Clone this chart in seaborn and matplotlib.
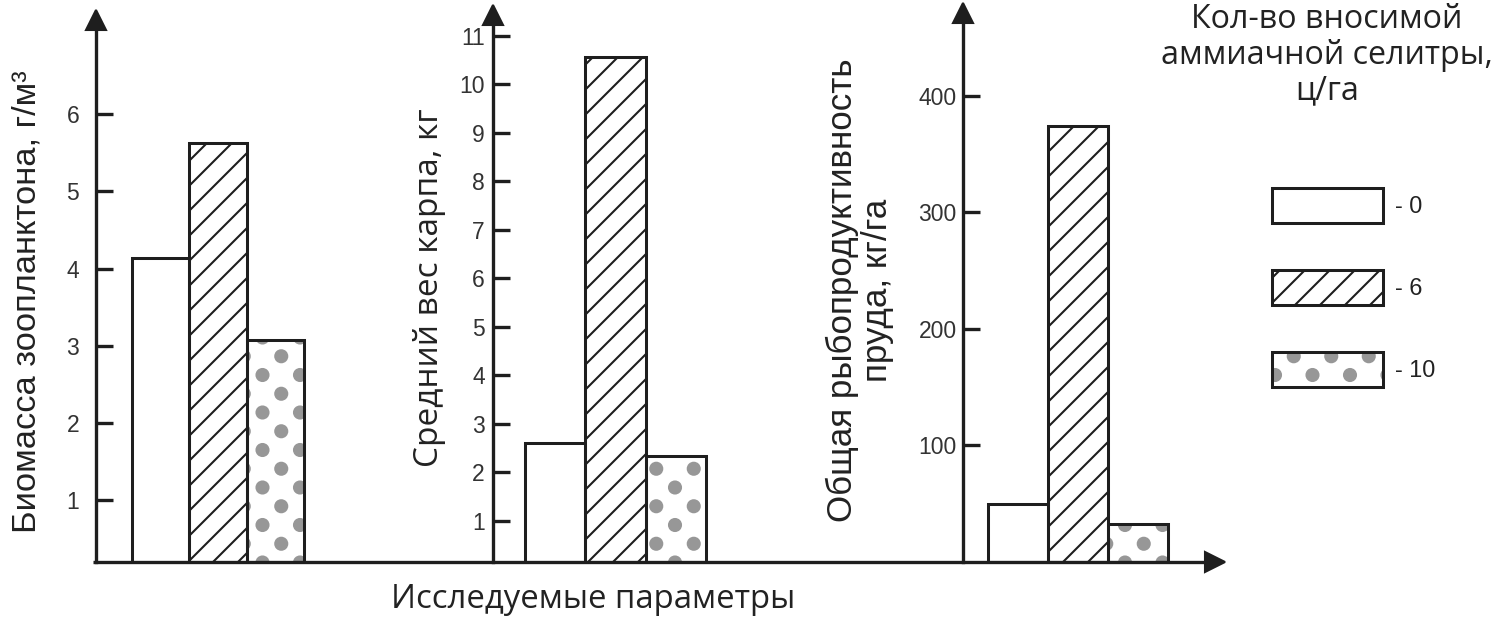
import numpy as np
import pandas as pd
import matplotlib
matplotlib.use('Agg')
import matplotlib.pyplot as plt
import matplotlib.hatch as mhatch
from matplotlib.path import Path
from matplotlib.legend_handler import HandlerTuple
import seaborn as sns

# данные
doses = ['0', '6', '10']
biomass = [4.13, 5.63, 3.07]          # г/м3
carp_weight = [2.61, 10.57, 2.35]     # кг
productivity = [50, 374, 33]          # кг/га

ticks_biomass = [1, 2, 3, 4, 5, 6]
ticks_weight = list(range(1, 12))
ticks_prod = [100, 200, 300, 400]

ylabels = ['Биомасса зоопланктона, г/м³',
           'Средний вес карпа, кг',
           'Общая рыбопродуктивность\nпруда, кг/га']
xlabel = 'Исследуемые параметры'
legend_title = 'Кол-во вносимой\nаммиачной селитры,\nц/га'
legend_labels = ['- 0', '- 6', '- 10']


# крупные точки в шахматном порядке вместо стандартной штриховки '.'
class BigDots(mhatch.HatchPatternBase):
    size = 0.04
    step = 8

    def __init__(self, hatch, density):
        circle = Path.unit_circle()
        self.shape_vertices = circle.vertices
        self.shape_codes = circle.codes
        self.pts = []
        if hatch.count('.'):
            self.pts = [(i, j) for i in range(self.step + 1)
                        for j in range(self.step + 1) if (i + j) % 2 == 0]
        self.num_vertices = len(self.pts) * len(circle.vertices)

    def set_vertices_and_codes(self, vertices, codes):
        v = [self.shape_vertices * self.size + [i / self.step, j / self.step] for i, j in self.pts]
        c = [self.shape_codes for _ in self.pts]
        np.concatenate(v, out=vertices)
        np.concatenate(c, out=codes)


mhatch._hatch_types = [BigDots if t is mhatch.SmallFilledCircles else t
                       for t in mhatch._hatch_types]

sns.set_style('white')
plt.rcParams['font.family'] = ['Liberation Sans', 'DejaVu Sans']
plt.rcParams['hatch.linewidth'] = 1.0

INK = '#1e1e1e'
DOT = '#979797'
hatches = [None, '//', '.']
hatch_colors = ['white', INK, DOT]

W, H, DPI = 1500, 624, 150
BASE = 562  # линия оси X, пикселей сверху
fig = plt.figure(figsize=(W / DPI, H / DPI), dpi=DPI)

# раскладка панелей: ось Y, верх стрелки, края столбцов, пределы, отступ подписей
layout = [
    dict(spine=96, top=20, bx=(132, 304), ylim=(0.197, 7.22), pad=8),
    dict(spine=493, top=15, bx=(525, 706), ylim=(0.155, 11.43), pad=4),
    dict(spine=963, top=13, bx=(988, 1168), ylim=(0, 471), pad=3),
]
series = [biomass, carp_weight, productivity]
yticks = [ticks_biomass, ticks_weight, ticks_prod]

legend_handles = None
for lay, vals, tks in zip(layout, series, yticks):
    bx0, bx1 = lay['bx']
    k = (bx1 - bx0) / 0.8
    x_left = -0.4 - (bx0 - lay['spine']) / k
    x_right = 0.4 + 15 / k
    ax = fig.add_axes([lay['spine'] / W, (H - BASE) / H,
                       (bx1 + 15 - lay['spine']) / W, (BASE - lay['top']) / H])
    ax.patch.set_alpha(0)
    df = pd.DataFrame({'param': 'p', 'dose': doses, 'value': vals})

    # слой 1: заливка и штриховка
    sns.barplot(data=df, x='param', y='value', hue='dose', hue_order=doses,
                palette=['white'] * 3, saturation=1, errorbar=None,
                legend=False, ax=ax)
    fill_bars = list(ax.patches)
    for p, h, c in zip(fill_bars, hatches, hatch_colors):
        p.set_facecolor('white')
        p.set_edgecolor(c)
        p.set_linewidth(0)
        if h:
            p.set_hatch(h)

    # слой 2: чёрный контур
    sns.barplot(data=df, x='param', y='value', hue='dose', hue_order=doses,
                palette=['black'] * 3, saturation=1, errorbar=None,
                legend=False, ax=ax)
    edge_bars = list(ax.patches)[len(fill_bars):]
    for p in edge_bars:
        p.set_facecolor('none')
        p.set_edgecolor(INK)
        p.set_linewidth(1.45)
    if legend_handles is None:
        legend_handles = list(zip(fill_bars, edge_bars))

    ax.set_xlim(x_left, x_right)
    ax.set_ylim(*lay['ylim'])
    ax.set_xticks([])
    ax.set_yticks(tks)
    ax.set_xlabel('')
    ax.set_ylabel('')
    for s in ['top', 'right', 'bottom']:
        ax.spines[s].set_visible(False)
    ax.spines['left'].set_color(INK)
    ax.spines['left'].set_linewidth(1.6)
    ax.tick_params(axis='y', direction='in', length=8, width=1.6, color=INK,
                   pad=lay['pad'], labelsize=11, labelcolor='#333333', left=True)
    ax.plot(0, 1, marker='^', ms=9.6, color=INK, transform=ax.transAxes, clip_on=False)

# общая ось X со стрелкой
axbg = fig.add_axes([0, 0, 1, 1])
axbg.set_xlim(0, W)
axbg.set_ylim(H, 0)
axbg.axis('off')
axbg.plot([93, 1207], [BASE, BASE], color=INK, lw=1.6, solid_capstyle='butt')
axbg.plot(1215, BASE, marker='>', ms=9.6, color=INK)

# подписи осей
fig.text(27 / W, 1 - 302 / H, ylabels[0], rotation=90, ha='center', va='center',
         fontsize=16.5, color='#222222')
fig.text(430 / W, 1 - 288 / H, ylabels[1], rotation=90, ha='center', va='center',
         fontsize=16, color='#222222', family=['Open Sans', 'DejaVu Sans'])
fig.text(860 / W, 1 - 290 / H, ylabels[2], rotation=90, ha='center', va='center',
         fontsize=16.8, color='#222222', multialignment='center', linespacing=1.05,
         family=['Liberation Sans Narrow', 'Liberation Sans', 'DejaVu Sans'])
fig.text(593 / W, 1 - 600 / H, xlabel, ha='center', va='center', fontsize=15.8,
         color='#222222', family=['Open Sans', 'DejaVu Sans'])

# легенда
fig.text(1327 / W, 1 - 55 / H, legend_title, ha='center', va='center', fontsize=15.5,
         color='#222222', multialignment='center', linespacing=1.1,
         family=['Open Sans', 'DejaVu Sans'])
fig.legend(legend_handles, legend_labels,
           handler_map={tuple: HandlerTuple(ndivide=1, pad=0)},
           loc='upper left', bbox_to_anchor=(1272 / W, 1 - 188 / H), frameon=False,
           borderpad=0, borderaxespad=0, fontsize=11.3, handlelength=4.72,
           handleheight=1.9, handletextpad=0.5, labelspacing=2.0,
           labelcolor='#222222')

fig.savefig('out.png', dpi=DPI)
